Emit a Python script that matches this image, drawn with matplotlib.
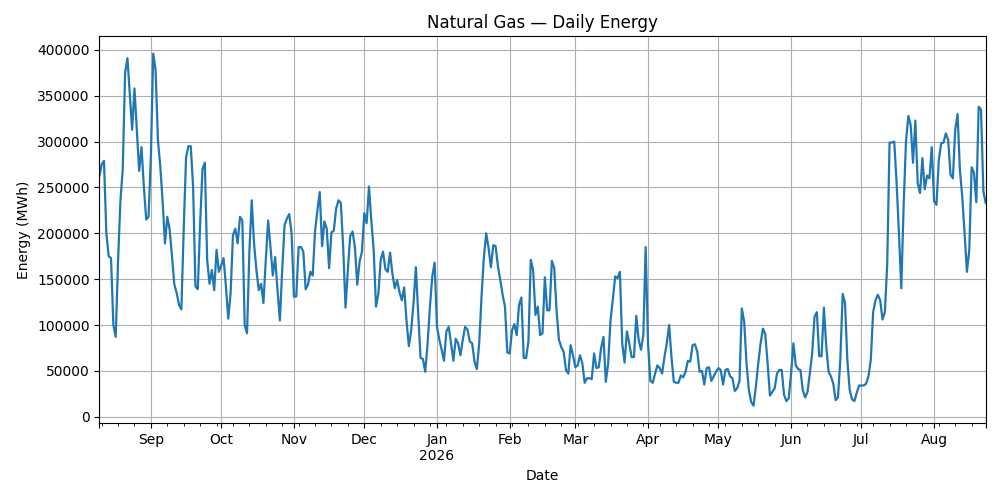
import matplotlib
matplotlib.use("Agg")
import matplotlib.pyplot as plt
import pandas as pd

start_date = "2025-08-10"

# Daily energy values in thousands of MWh
energy_k_part1 = [
    262, 275, 279, 200, 175, 173, 100, 87, 170, 235,
    270, 375, 391, 352, 313, 358, 312, 268, 294, 251,
    215, 218, 284, 396, 378, 302, 273, 235, 189, 218,
    204, 175, 144, 135, 122, 117, 205, 283, 295, 295,
    251, 142, 139, 210, 270, 277, 171, 145, 160, 138,
    182, 158, 165, 173, 142, 107, 135, 198, 205, 189,
    218, 214, 100, 91, 180, 236, 189, 160, 138, 145,
    124, 171, 214, 185, 154, 174, 138, 105, 160, 209,
    216, 221, 200, 131, 131, 185, 185, 180, 139, 144,
    158, 154, 202, 225, 245, 186, 213, 205, 162, 201,
]
energy_k_part2 = [
    203, 227, 236, 233, 185, 119, 160, 197, 202, 185,
    144, 169, 180, 222, 211, 251, 214, 182, 120, 134,
    171, 180, 161, 158, 179, 156, 140, 149, 136, 127,
    141, 105, 77, 94, 124, 163, 112, 64, 63, 49,
    80, 120, 153, 168, 98, 84, 73, 61, 93, 98,
    80, 61, 85, 80, 67, 84, 98, 95, 82, 80,
    60, 52, 80, 131, 174, 200, 184, 163, 187, 186,
    164, 149, 133, 120, 70, 69, 94, 101, 89, 122,
    130, 64, 64, 82, 171, 160, 111, 120, 89, 91,
    152, 116, 116, 170, 162, 116, 84, 76, 71, 51,
]
energy_k_part3 = [
    47, 78, 67, 54, 56, 67, 58, 37, 42, 42,
    41, 69, 53, 54, 75, 87, 38, 58, 105, 128,
    153, 151, 158, 80, 59, 93, 80, 65, 65, 110,
    84, 73, 89, 185, 80, 39, 37, 47, 56, 53,
    47, 65, 80, 100, 65, 38, 37, 37, 45, 43,
    49, 61, 60, 78, 79, 71, 49, 50, 35, 53,
    54, 39, 44, 49, 53, 51, 35, 51, 52, 44,
    42, 28, 31, 39, 118, 104, 58, 29, 16, 12,
    33, 58, 80, 96, 90, 58, 23, 27, 31, 47,
    51, 51, 24, 17, 20, 47, 80, 56, 52, 51,
]
energy_k_part4 = [
    29, 21, 27, 47, 69, 109, 114, 66, 66, 119,
    77, 49, 44, 36, 18, 21, 62, 134, 124, 62,
    29, 19, 17, 26, 34, 34, 34, 36, 44, 62,
    114, 127, 133, 127, 106, 114, 166, 299, 299, 300,
    255, 200, 140, 230, 300, 328, 318, 277, 323, 255,
    244, 282, 248, 263, 260, 294, 235, 231, 280, 298,
    299, 309, 302, 264, 260, 313, 330, 269, 240, 200,
    158, 182, 272, 266, 234, 338, 335, 246, 233,
]

energy_k = energy_k_part1 + energy_k_part2 + energy_k_part3 + energy_k_part4
energy = [v * 1000 for v in energy_k]

dates = pd.date_range(start_date, periods=len(energy), freq="D")
series = pd.Series(energy, index=dates)

fig, ax = plt.subplots(figsize=(10, 5), dpi=100)
series.plot(ax=ax, color="#1f77b4", linewidth=1.6)
ax.set_title("Natural Gas — Daily Energy")
ax.set_xlabel("Date")
ax.set_ylabel("Energy (MWh)")
ax.grid(True)
fig.subplots_adjust(left=0.0993, right=0.9857, top=0.928, bottom=0.1534)
fig.savefig("out.png", dpi=100)
